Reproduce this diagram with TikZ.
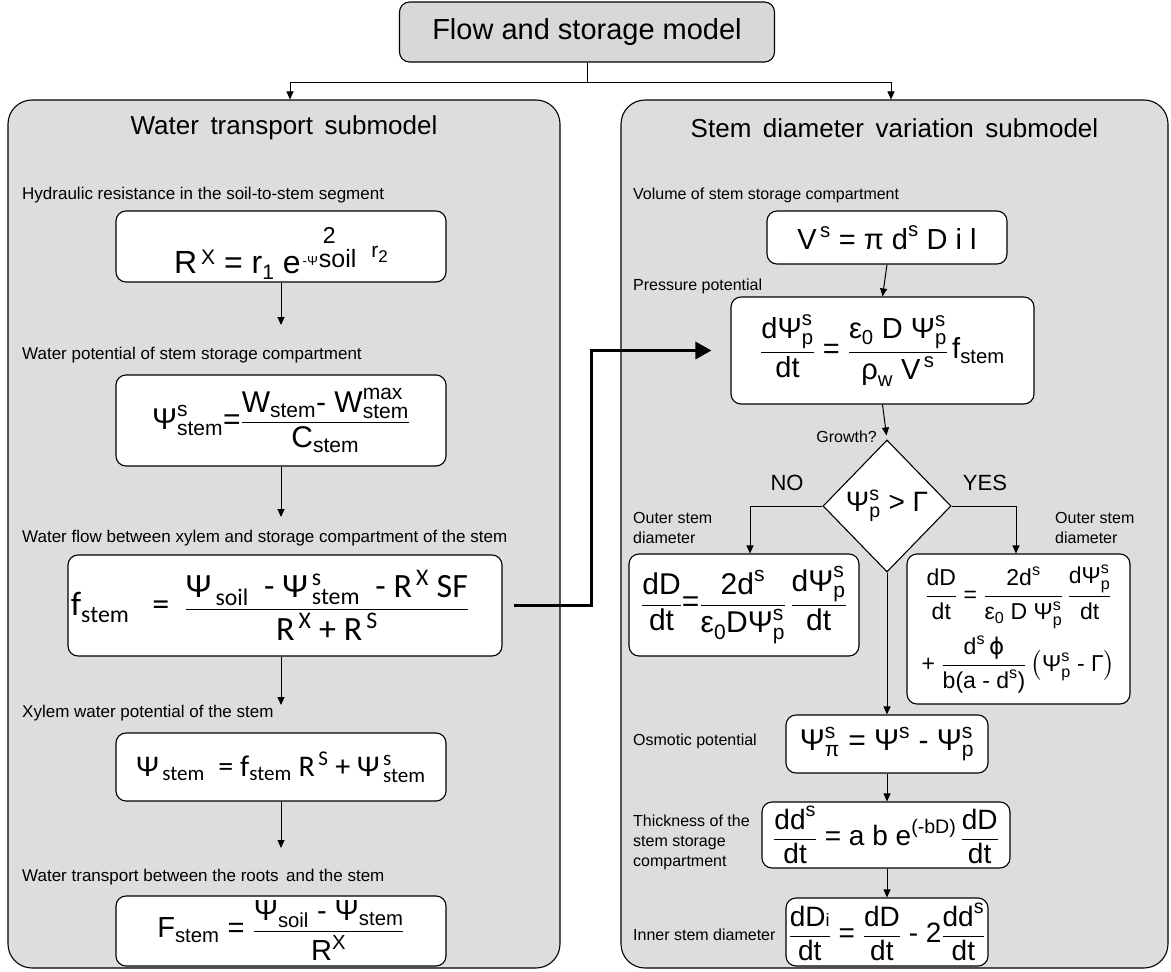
\documentclass[tikz,border=0pt]{standalone}
\usepackage{amsmath}
\usepackage{fontspec}
\setmainfont{Liberation Sans}
\newfontfamily\calib{Carlito}
\newfontfamily\dejavu{DejaVu Sans}
\usetikzlibrary{shapes.geometric,arrows.meta,calc}
\definecolor{panelgray}{RGB}{221,221,221}
\definecolor{topgray}{RGB}{216,216,216}
\newcommand\tx[1]{\text{#1}}
\newcommand\fsz[1]{\fontsize{#1}{#1}\selectfont}
\tikzset{
  panel/.style={draw, line width=1.1pt, fill=panelgray, rounded corners=24pt, inner sep=0pt},
  topbox/.style={draw, line width=1.1pt, fill=topgray, rounded corners=10pt, inner sep=0pt, font=\fsz{29}},
  eqbox/.style={draw, line width=1.1pt, fill=white, rounded corners=10pt, inner sep=0pt},
  ptitle/.style={inner sep=0pt, font=\fsz{26}},
  lbl/.style={anchor=west, inner sep=0pt, align=left, font=\fontsize{17}{20}\selectfont},
  rlbl/.style={anchor=west, inner sep=0pt, align=left, font=\fontsize{16}{20}\selectfont},
  arr/.style={-{Triangle[length=8pt,width=7pt]}, line width=1pt},
  bigarr/.style={-{Triangle[length=16pt,width=17pt]}, line width=3pt},
}
\begin{document}
\begin{tikzpicture}[x=1pt,y=-1pt]
\useasboundingbox (0,0) rectangle (1171,972);

% top-level model box and the two submodel panels
\node[topbox, minimum width=375, minimum height=60] (top) at (587,32) {Flow and storage model};
\node[panel, minimum width=552, minimum height=868] (lp) at (284,534) {};
\node[panel, minimum width=547, minimum height=868] (rp) at (894.5,534) {};
\node[ptitle] (lt) at (284,128) {Water\, transport\, submodel};
\node[ptitle] (rt) at (894.5,128) {Stem\, diameter\, variation\, submodel};

\draw[line width=1pt] (top.south) -- ++(0,20) coordinate (j);
\draw[arr] (j) -| ([xshift=6]lp.north);
\draw[arr] (j) -| ([xshift=-3.5]rp.north);

% ---------------- water transport submodel ----------------
\node[lbl] (l1) at (22,195) {Hydraulic resistance in the soil-to-stem segment};
\node[eqbox, minimum width=330, minimum height=71, text height=62pt, text depth=8pt, font=\fsz{32}] (b1) at (281,246.5)
  {R\hspace{4pt}\raisebox{9pt}{\fsz{21}X} = r\raisebox{-6pt}{\fsz{21}1} e\hspace{2pt}\raisebox{8pt}{\fsz{13}-Ψ}\hspace{1pt}\makebox[0pt][l]{\raisebox{30pt}{\fsz{23}\hspace{4pt}2}}\raisebox{6pt}{\fsz{25}soil}\hspace{15pt}\raisebox{16pt}{\fsz{21}r}\raisebox{11pt}{\fsz{17}2}};
\coordinate (e1) at (281,325);
\draw[arr] (b1.south) -- (e1);

\node[lbl] (l2) at (22,355) {Water potential of stem storage compartment};
\node[eqbox, minimum width=330, minimum height=91, font=\fsz{30}] (b2) at (281,420.5)
  {$\displaystyle\tx{Ψ}^{\tx{s}}_{\tx{stem}}\tx{=}\frac{\tx{W}_{\tx{stem}}\tx{- W}^{\tx{max}}_{\tx{stem}}}{\tx{C}_{\tx{stem}}}$};
\coordinate (e2) at (281,517);
\draw[arr] (b2.south) -- (e2);

\node[lbl] (l3) at (22,538) {Water flow between xylem and storage compartment of the stem};
\node[eqbox, minimum width=434, minimum height=101, font=\calib\fsz{34}] (b3) at (285,605.5)
  {$\displaystyle\tx{f}_{\tx{stem}}\ \ \ \tx{=}\ \ \frac{\tx{Ψ}_{\,\tx{soil}}\ \ \tx{- Ψ}^{\,\tx{s}}_{\,\tx{stem}}\ \ \tx{- R}^{\,\tx{X}}\tx{ SF}}{\tx{R}^{\,\tx{X}}\tx{ + R}^{\,\tx{S}}}$\hspace*{30pt}};
\coordinate (e3) at (281,705);
\draw[arr] (b3.south -| e3) -- (e3);

\node[lbl] (l4) at (22,713) {Xylem water potential of the stem};
\node[eqbox, minimum width=330, minimum height=68, font=\calib\fsz{30}] (b4) at (281,767)
  {$\tx{Ψ}_{\,\tx{stem}}\ \ \tx{=\ f}_{\tx{stem}}\ \tx{R}^{\,\tx{S}}\tx{ + Ψ}^{\,\tx{s}}_{\,\tx{stem}}$};
\coordinate (e4) at (281,848);
\draw[arr] (b4.south) -- (e4);

\node[lbl] (l5) at (22,877) {Water transport between the roots\, and the stem};
\node[eqbox, minimum width=330, minimum height=70, font=\fsz{29}] (b5) at (281,931)
  {$\displaystyle\tx{F}_{\tx{stem}}\tx{ = }\frac{\tx{Ψ}_{\tx{soil}}\tx{ - Ψ}_{\tx{stem}}}{\tx{R}^{\tx{X}}}$};

% ---------------- stem diameter variation submodel ----------------
\node[rlbl] (r1) at (633,195) {Volume of stem storage compartment};
\node[eqbox, minimum width=240, minimum height=53, font=\fsz{29}] (V) at (887,237.5)
  {$\tx{V}^{\,\tx{s}}\tx{ = π d}^{\tx{s}}\tx{ D i l}$};

\node[rlbl] (r2) at (633,286) {Pressure potential};
\node[eqbox, minimum width=303, minimum height=107, font=\fsz{29}] (P) at (882.5,350.5)
  {$\displaystyle\frac{\tx{dΨ}^{\tx{s}}_{\tx{p}}}{\tx{dt}}\tx{ = }\frac{\tx{ε}_{\tx{0}}\tx{ D Ψ}^{\tx{s}}_{\tx{p}}}{\tx{ρ}_{\tx{w}}\tx{ V}^{\,\tx{s}}}\,\tx{f}_{\tx{stem}}$};
\draw[arr] (V.south) -- (P.north);

\node[diamond, draw, fill=white, line width=1.1pt, minimum width=128, minimum height=132,
      inner sep=0pt, font=\fsz{28}] (D) at (887,506)
  {$\tx{Ψ}^{\tx{s}}_{\tx{p}}\tx{ > Γ}$};
\draw[arr, shorten >=4pt] (P.south) -- (D.north);
\node[anchor=east, inner sep=0pt, font=\fsz{16}] (gr) at (877,437) {Growth?};
\node[inner sep=0pt, font=\fsz{22}] (nolbl) at (787,483) {NO};
\node[inner sep=0pt, font=\fsz{22}] (yeslbl) at (985,483) {YES};

\node[rlbl] (r3) at (633,528) {Outer stem\\diameter};
\node[rlbl] (r4) at (1055,528) {Outer stem\\diameter};

\node[eqbox, minimum width=230, minimum height=102, font=\fsz{30}] (no) at (744,605)
  {$\displaystyle\frac{\tx{dD}}{\tx{dt}}\tx{=}\frac{\tx{2d}^{\tx{s}}}{\tx{ε}_{\tx{0}}\tx{DΨ}^{\tx{s}}_{\tx{p}}}\,\frac{\tx{dΨ}^{\tx{s}}_{\tx{p}}}{\tx{dt}}$};
\node[eqbox, minimum width=223, minimum height=150, font=\fsz{23}, align=center] (yes) at (1018.5,629)
  {$\displaystyle\frac{\tx{dD}}{\tx{dt}}\tx{ = }\frac{\tx{2d}^{\tx{s}}}{\tx{ε}_{\tx{0}}\tx{ D Ψ}^{\tx{s}}_{\tx{p}}}\,\frac{\tx{dΨ}^{\tx{s}}_{\tx{p}}}{\tx{dt}}$\\[6pt]
   $\displaystyle\tx{+ }\frac{\tx{d}^{\tx{s}}\,\tx{\dejavu ϕ}}{\tx{b(a - d}^{\tx{s}}\tx{)}}\left(\tx{Ψ}^{\tx{s}}_{\tx{p}}\tx{ - Γ}\right)$};
\draw[arr] (D.west) -| ([xshift=6]no.north);
\draw[arr] (D.east) -| ([xshift=-2.5]yes.north);

\node[rlbl] (r5) at (633,741) {Osmotic potential};
\node[eqbox, minimum width=202, minimum height=58, font=\fsz{30}] (osm) at (887,744)
  {$\tx{Ψ}^{\tx{s}}_{\tx{π}}\tx{ = Ψ}^{\tx{s}}\tx{ - Ψ}^{\tx{s}}_{\tx{p}}$};
\draw[arr] (D.south) -- (osm.north);

\node[rlbl] (r6) at (633,842) {Thickness of the\\stem storage\\compartment};
\node[eqbox, minimum width=248, minimum height=66, font=\fsz{28}] (thk) at (886,835)
  {$\displaystyle\frac{\tx{dd}^{\tx{s}}}{\tx{dt}}\tx{ = a b e}^{\tx{(-bD)}}\,\frac{\tx{dD}}{\tx{dt}}$};
\draw[arr] (osm.south) -- (osm.south |- thk.north);

\node[rlbl] (r7) at (633,935) {Inner stem diameter};
\node[eqbox, minimum width=202, minimum height=68, font=\fsz{28}] (inn) at (887,932)
  {$\displaystyle\frac{\tx{dD{\fsz{18}i}}}{\tx{dt}}\tx{ = }\frac{\tx{dD}}{\tx{dt}}\tx{ - 2}\frac{\tx{dd}^{\tx{s}}}{\tx{dt}}$};
\draw[arr] (thk.south -| inn.north) -- (inn.north);

% transfer of the stem flow into the pressure equation
\coordinate (jx) at (591,0);
\draw[bigarr] ([xshift=11]b3.east) -| (jx |- P.west) -- ([xshift=-19]P.west);
\end{tikzpicture}
\end{document}
